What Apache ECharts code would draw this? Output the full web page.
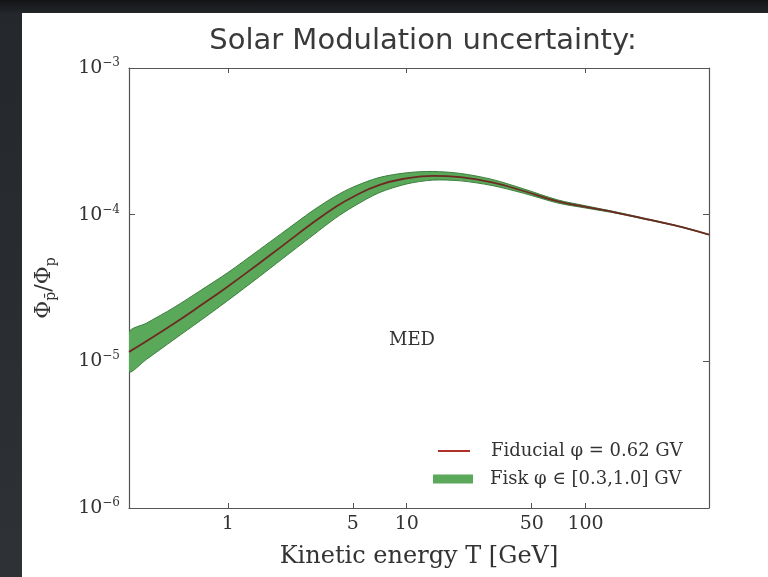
<!DOCTYPE html>
<html>
<head>
<meta charset="utf-8">
<script src="https://cdn.jsdelivr.net/npm/echarts@6/dist/echarts.min.js"></script>
<style>
  html, body { margin: 0; padding: 0; width: 768px; height: 577px; overflow: hidden; background: #2d3035; }
  #frame { position: absolute; left: 0; top: 0; width: 768px; height: 577px;
           background: linear-gradient(#121416 0px, #24272b 14px, #2e3136 100%); }
  #chart { position: absolute; left: 22px; top: 13px; width: 746px; height: 564px; background: #ffffff; }
</style>
</head>
<body>
<div id="frame"></div>
<div id="chart"></div>
<script>
// Kinetic energy grid [GeV]
const energy = [0.28, 0.35, 0.5, 0.7, 1, 1.5, 2, 3, 4, 5, 7, 10, 14, 20, 30, 45, 70, 100, 150, 230, 350, 490];
// antiproton / proton ratio, fiducial modulation potential 0.62 GV
const fiducial = [1.16e-5, 1.37e-5, 1.81e-5, 2.39e-5, 3.24e-5, 4.67e-5, 6.08e-5, 8.83e-5, 1.127e-4, 1.32e-4, 1.59e-4, 1.77e-4, 1.84e-4, 1.80e-4, 1.66e-4, 1.45e-4, 1.23e-4, 1.13e-4, 1.03e-4, 9.2e-5, 8.2e-5, 7.3e-5];
// Fisk potential band, phi in [0.3, 1.0] GV
const fiskUpper = [1.58e-5, 1.82e-5, 2.33e-5, 3.03e-5, 4.03e-5, 5.77e-5, 7.46e-5, 1.07e-4, 1.34e-4, 1.54e-4, 1.79e-4, 1.93e-4, 1.97e-4, 1.91e-4, 1.74e-4, 1.50e-4, 1.26e-4, 1.15e-4, 1.04e-4, 9.27e-5, 8.24e-5, 7.32e-5];
const fiskLower = [8.5e-6, 1.03e-5, 1.41e-5, 1.89e-5, 2.60e-5, 3.78e-5, 4.96e-5, 7.26e-5, 9.48e-5, 1.13e-4, 1.41e-4, 1.62e-4, 1.72e-4, 1.70e-4, 1.58e-4, 1.40e-4, 1.20e-4, 1.11e-4, 1.02e-4, 9.13e-5, 8.16e-5, 7.28e-5];
// Axis tick labels
const xTickLabels = [1, 5, 10, 50, 100];
const xRange = [0.28, 490];
const yRange = [1e-6, 1e-3];

const serif = '"DejaVu Serif", "Liberation Serif", serif';
const sans = '"DejaVu Sans", "Liberation Sans", sans-serif';
const ink = '#333333';
const frameColor = '#555555';
const bandFill = '#5aa85a';
const bandEdge = '#3f7f3f';

const chart = echarts.init(document.getElementById('chart'), null, { renderer: 'canvas' });

const fiducialName = 'Fiducial \u03c6 = 0.62 GV';
const fiskName = 'Fisk \u03c6 \u2208 [0.3,1.0] GV';

// Shaded Fisk band: one polygon through the upper edge and back along the lower edge
function renderBand(params, api) {
  if (params.dataIndex !== 0) return null;
  const up = energy.map((e, i) => api.coord([e, fiskUpper[i]]));
  const lo = energy.map((e, i) => api.coord([e, fiskLower[i]])).reverse();
  return {
    type: 'polygon',
    shape: { points: up.concat(lo), smooth: 0.3 },
    style: { fill: bandFill, stroke: bandEdge, lineWidth: 1 }
  };
}

const option = {
  animation: false,
  backgroundColor: '#ffffff',
  grid: { left: 107, top: 55, right: 59, bottom: 69, containLabel: false, outerBoundsMode: 'none' },
  legend: [
    {
      data: [{ name: fiducialName, icon: 'rect' }],
      left: 416, top: 429, padding: 0, orient: 'vertical',
      itemWidth: 32, itemHeight: 2,
      textStyle: { fontFamily: serif, fontSize: 18, color: ink, padding: [0, 0, 0, 16] }
    },
    {
      data: [{ name: fiskName, icon: 'rect' }],
      left: 411, top: 457, padding: 0, orient: 'vertical',
      itemWidth: 40, itemHeight: 9,
      textStyle: { fontFamily: serif, fontSize: 18, color: ink, padding: [0, 0, 0, 12] }
    }
  ],
  xAxis: [
    {
      type: 'log', logBase: 10, min: xRange[0], max: xRange[1], position: 'bottom',
      axisLine: { show: true, onZero: false, lineStyle: { color: frameColor, width: 1.2 } },
      axisTick: { show: false }, axisLabel: { show: false }, splitLine: { show: false },
      name: 'Kinetic energy T [GeV]', nameLocation: 'middle', nameGap: 37,
      nameTextStyle: { fontFamily: serif, fontSize: 24, color: ink }
    },
    {
      // log-spaced label axis sharing the bottom edge
      type: 'value', min: Math.log10(xRange[0]), max: Math.log10(xRange[1]), position: 'bottom',
      axisLine: { show: false, onZero: false }, splitLine: { show: false },
      axisTick: { show: true, inside: true, length: 5, customValues: xTickLabels.map(Math.log10), lineStyle: { color: frameColor } },
      axisLabel: {
        show: true, margin: 7, customValues: xTickLabels.map(Math.log10),
        formatter: v => String(Math.round(Math.pow(10, v))),
        fontFamily: serif, fontSize: 19, color: ink
      }
    },
    {
      type: 'log', logBase: 10, min: xRange[0], max: xRange[1], position: 'top',
      axisLine: { show: true, onZero: false, lineStyle: { color: frameColor, width: 1.2 } },
      axisTick: { show: true, inside: true, length: 5, lineStyle: { color: frameColor } },
      axisLabel: { show: false }, splitLine: { show: false }
    }
  ],
  yAxis: [
    {
      type: 'log', logBase: 10, min: yRange[0], max: yRange[1], position: 'left',
      axisLine: { show: true, onZero: false, lineStyle: { color: frameColor, width: 1.2 } },
      axisTick: { show: true, inside: true, length: 6, lineStyle: { color: frameColor } },
      splitLine: { show: false },
      axisLabel: {
        margin: 9,
        formatter: v => '{b|10}{s|\u2212' + Math.abs(Math.round(Math.log10(v))) + '}',
        rich: {
          b: { fontFamily: serif, fontSize: 19, color: ink, lineHeight: 22 },
          s: { fontFamily: serif, fontSize: 12, color: ink, verticalAlign: 'top', lineHeight: 12 }
        }
      },
      name: '{a|\u03a6}{u|p\u0304}{a|/\u03a6}{u|p}', nameLocation: 'middle', nameGap: 71, nameRotate: 90,
      nameTextStyle: {
        rich: {
          a: { fontFamily: serif, fontSize: 22, color: ink, lineHeight: 28 },
          u: { fontFamily: serif, fontSize: 14, color: ink, verticalAlign: 'bottom', lineHeight: 14 }
        }
      }
    },
    {
      type: 'log', logBase: 10, min: yRange[0], max: yRange[1], position: 'right',
      axisLine: { show: true, onZero: false, lineStyle: { color: frameColor, width: 1.2 } },
      axisTick: { show: true, inside: true, length: 6, lineStyle: { color: frameColor } },
      axisLabel: { show: false }, splitLine: { show: false }
    }
  ],
  graphic: [
    {
      type: 'text', x: 401, y: 28, z: 10,
      style: { text: 'Solar Modulation uncertainty:', font: '29px ' + sans, fill: '#3a3a3a',
               align: 'center', verticalAlign: 'middle', textAlign: 'center', textVerticalAlign: 'middle' }
    },
    {
      type: 'text', x: 390, y: 327, z: 10,
      style: { text: 'MED', font: '18px ' + serif, fill: ink,
               align: 'center', verticalAlign: 'middle', textAlign: 'center', textVerticalAlign: 'middle' }
    }
  ],
  series: [
    {
      name: fiskName, type: 'custom', xAxisIndex: 0, yAxisIndex: 0, clip: true, z: 2,
      data: energy.map((e, i) => [e, fiskLower[i], fiskUpper[i]]),
      encode: { x: 0, y: [1, 2] },
      itemStyle: { color: bandFill },
      renderItem: renderBand
    },
    {
      name: fiducialName, type: 'line', xAxisIndex: 0, yAxisIndex: 0,
      data: energy.map((e, i) => [e, fiducial[i]]), smooth: true, symbol: 'none', z: 3,
      itemStyle: { color: '#b0302a' },
      lineStyle: { color: '#6e2a22', width: 1.8 }
    }
  ]
};

chart.setOption(option);
</script>
</body>
</html>
